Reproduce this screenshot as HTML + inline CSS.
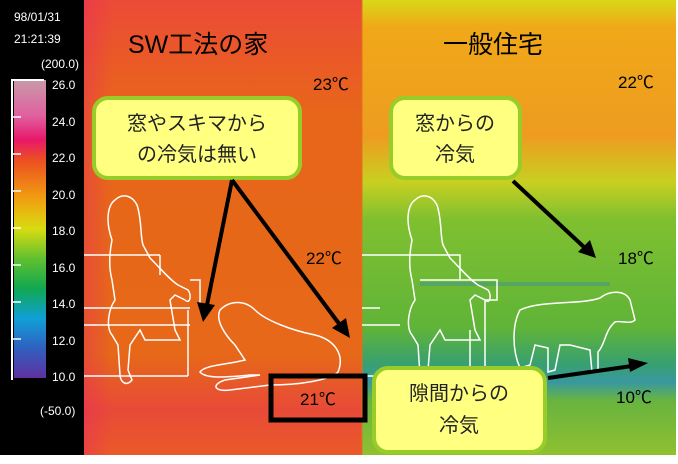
<!DOCTYPE html>
<html><head><meta charset="utf-8"><style>
body{margin:0;width:678px;height:459px;overflow:hidden;background:#fff;font-family:"Liberation Sans","Noto Sans CJK JP",sans-serif}
</style></head><body>
<svg width="678" height="459" viewBox="0 0 678 459" xmlns="http://www.w3.org/2000/svg" font-family="Liberation Sans, Noto Sans CJK JP, sans-serif">
<defs>
<linearGradient id="sc" x1="0" y1="0" x2="0" y2="1">
<stop offset="0" stop-color="#c89aa8"/><stop offset="0.12" stop-color="#e060a0"/><stop offset="0.2" stop-color="#e8186a"/><stop offset="0.27" stop-color="#ec5020"/><stop offset="0.4" stop-color="#f0a010"/><stop offset="0.5" stop-color="#d8dc10"/><stop offset="0.6" stop-color="#60c030"/><stop offset="0.7" stop-color="#10a850"/><stop offset="0.8" stop-color="#10a0d8"/><stop offset="0.9" stop-color="#3060c0"/><stop offset="1" stop-color="#6030a0"/>
</linearGradient>
<linearGradient id="lg" x1="0" y1="0" x2="0" y2="1">
<stop offset="0" stop-color="#ec4a38"/><stop offset="0.12" stop-color="#ea5828"/><stop offset="0.25" stop-color="#e8661a"/><stop offset="0.78" stop-color="#e66818"/><stop offset="0.9" stop-color="#e84a38"/><stop offset="1" stop-color="#ea5a28"/>
</linearGradient>
<linearGradient id="lh" x1="0" y1="0" x2="1" y2="0">
<stop offset="0" stop-color="#e8206a" stop-opacity="0.35"/><stop offset="0.1" stop-color="#e8206a" stop-opacity="0"/><stop offset="1" stop-color="#e86018" stop-opacity="0"/>
</linearGradient>
<linearGradient id="rg" x1="0" y1="0" x2="0" y2="1">
<stop offset="0" stop-color="#d8d818"/><stop offset="0.06" stop-color="#f0a818"/><stop offset="0.3" stop-color="#ee9c20"/><stop offset="0.4" stop-color="#c8d020"/><stop offset="0.48" stop-color="#80c030"/><stop offset="0.72" stop-color="#60b438"/><stop offset="0.8" stop-color="#38a070"/><stop offset="0.84" stop-color="#3898a0"/><stop offset="0.88" stop-color="#68b440"/><stop offset="1" stop-color="#90c030"/>
</linearGradient>
</defs>
<rect x="0" y="0" width="84" height="459" fill="#000"/>
<rect x="84" y="0" width="280" height="455" fill="url(#lg)"/>
<rect x="84" y="0" width="280" height="455" fill="url(#lh)"/>
<rect x="362" y="0" width="314" height="455" fill="url(#rg)"/>
<rect x="420" y="282" width="190" height="4" fill="#2a80b8" opacity="0.35"/>
<line x1="362" y1="0" x2="362" y2="455" stroke="#e07020" stroke-width="1"/>
<rect x="0" y="455" width="678" height="4" fill="#fff"/>
<text x="14" y="21" fill="#fff" font-size="12">98/01/31</text>
<text x="14" y="43" fill="#fff" font-size="12">21:21:39</text>
<text x="41" y="68" fill="#fff" font-size="12">(200.0)</text>
<rect x="14" y="80" width="32" height="298" fill="url(#sc)"/>
<path d="M12 79 V380 M12 80 H44" stroke="#fff" stroke-width="2" fill="none"/>
<g stroke="#fff" stroke-width="1.5">
<line x1="12" y1="117" x2="21" y2="117"/><line x1="12" y1="154" x2="21" y2="154"/><line x1="12" y1="191" x2="21" y2="191"/><line x1="12" y1="228" x2="21" y2="228"/><line x1="12" y1="265" x2="21" y2="265"/><line x1="12" y1="302" x2="21" y2="302"/><line x1="12" y1="339" x2="21" y2="339"/>
</g>
<g fill="#fff" font-size="12">
<text x="52" y="89">26.0</text><text x="52" y="126">24.0</text><text x="52" y="162">22.0</text><text x="52" y="199">20.0</text><text x="52" y="235">18.0</text><text x="52" y="272">16.0</text><text x="52" y="308">14.0</text><text x="52" y="345">12.0</text><text x="52" y="381">10.0</text>
</g>
<text x="40" y="415" fill="#fff" font-size="12">(-50.0)</text>
<g stroke="#fff" stroke-width="1.5" fill="none">
<path d="M84 255 H160 M84 308 H190 M84 325 H190 M84 376 H188 M160 255 V275 M190 280 H200 V310 M188 310 V376"/>
<path d="M362 255 H460 V280 M362 308 H380 M362 325 H400 M362 376 H380 M420 280 H497 V300 H485 V370 M470 330 V370"/>
<path d="M112 240 C105 220 108 205 115 200 C122 193 132 195 137 205 C142 220 140 235 143 245 L150 258 C162 270 170 280 178 285 L188 290 C192 295 190 305 185 300 L175 295 L170 300 L175 330 L180 340 H145 L140 330 L130 345 L128 370 L132 380 C125 388 120 380 120 375 L118 345 L112 335 C106 328 108 310 115 300 L112 280 C108 265 110 250 112 240 Z"/>
<path d="M220 310 C230 300 245 300 255 310 C265 320 290 330 315 335 C335 340 345 355 338 372 C330 380 300 385 270 385 L230 390 C215 392 210 385 225 380 L260 375 L250 375 C220 378 205 378 200 372 C205 365 225 365 245 360 L235 345 C225 335 215 320 220 310 Z"/>
<path d="M412 240 C405 220 408 205 415 200 C422 193 432 195 437 205 C442 220 440 235 443 245 L450 258 C462 270 470 280 478 285 L488 290 C492 295 490 305 485 300 L475 295 L470 300 L475 330 L480 340 H445 L440 330 L430 345 L428 370 L432 380 C425 388 420 380 420 375 L418 345 L412 335 C406 328 408 310 415 300 L412 280 C408 265 410 250 412 240 Z"/>
<path d="M520 310 C540 300 580 305 600 298 C610 290 625 290 630 300 L635 320 C630 325 620 320 615 322 C605 330 605 345 598 352 L598 370 L592 372 L590 350 L570 345 L560 345 L555 370 L548 372 L548 348 L535 345 L530 365 L520 368 C512 350 512 325 520 310 Z"/>
</g>
<text x="128" y="53" font-size="25" fill="#000">SW工法の家</text>
<text x="443" y="53" font-size="25" fill="#000">一般住宅</text>
<g font-size="17" fill="#000">
<text x="313" y="90">23℃</text><text x="306" y="264">22℃</text><text x="300" y="405">21℃</text>
<text x="618" y="88">22℃</text><text x="618" y="264">18℃</text><text x="616" y="403">10℃</text>
</g>
<rect x="271" y="376" width="94" height="44" fill="none" stroke="#000" stroke-width="5"/>
<g fill="#ffff80" stroke="#98cc28" stroke-width="4">
<rect x="94" y="98" width="206" height="80" rx="14"/>
<rect x="391" y="98" width="129" height="80" rx="14"/>
<rect x="374" y="368" width="171" height="84" rx="14"/>
</g>
<g font-size="20" fill="#222" text-anchor="middle">
<text x="197" y="130">窓やスキマから</text><text x="197" y="161">の冷気は無い</text>
<text x="455" y="130">窓からの</text><text x="455" y="161">冷気</text>
<text x="459" y="400">隙間からの</text><text x="459" y="432">冷気</text>
</g>
<g stroke="#000" stroke-width="4" fill="none">
<line x1="232" y1="180" x2="207" y2="305"/>
<line x1="232" y1="180" x2="340" y2="325"/>
<line x1="513" y1="181" x2="585" y2="248"/>
<line x1="548" y1="378" x2="632" y2="366"/>
</g>
<g fill="#000">
<polygon points="203,322 197,302 215,305"/>
<polygon points="350,338 332,328 346,318"/>
<polygon points="596,258 578,252 590,240"/>
<polygon points="648,363 630,372 628,358"/>
</g>
</svg>
</body></html>
